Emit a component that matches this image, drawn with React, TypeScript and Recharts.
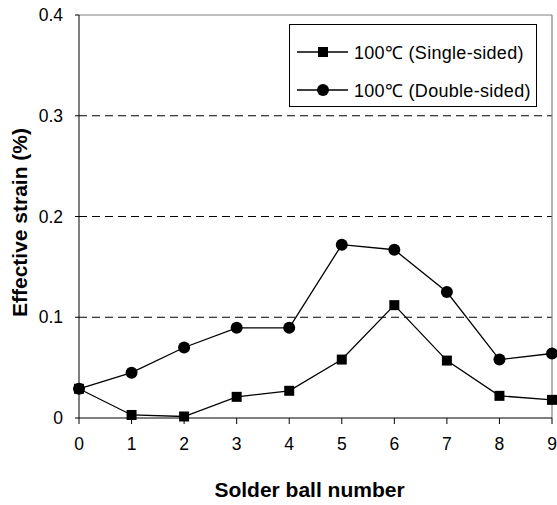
import React from 'react';
import { LineChart, Line, XAxis, YAxis, ReferenceLine, Legend } from 'recharts';

// solder ball index along the board edge
const ballNumbers = [0, 1, 2, 3, 4, 5, 6, 7, 8, 9];
const singleSided = [0.029, 0.003, 0.0015, 0.021, 0.027, 0.058, 0.112, 0.057, 0.022, 0.018];
const doubleSided = [0.029, 0.045, 0.07, 0.0895, 0.0895, 0.172, 0.167, 0.125, 0.058, 0.064];
const yTicks = [0, 0.1, 0.2, 0.3, 0.4];
const gridValues = [0.1, 0.2, 0.3];
const seriesNames = ['100\u2103 (Single-sided)', '100\u2103 (Double-sided)'];

const data = ballNumbers.map((n, i) => ({
  ball: n,
  single: singleSided[i],
  double: doubleSided[i],
}));

const FONT = '"Liberation Sans", Arial, sans-serif';

const SquareDot = (props: any) => {
  const { cx, cy, index } = props;
  if (cx == null || cy == null) return null;
  return <rect key={`sq-${index}`} x={cx - 5} y={cy - 5} width={10} height={10} fill="#000" />;
};

const CircleDot = (props: any) => {
  const { cx, cy, index } = props;
  if (cx == null || cy == null) return null;
  return <circle key={`ci-${index}`} cx={cx} cy={cy} r={6} fill="#000" />;
};

const LegendBox = () => (
  <div
    style={{
      border: '1px solid #000',
      width: 248,
      height: 83,
      background: '#fff',
      fontFamily: FONT,
      fontSize: 18,
      letterSpacing: 0.3,
      color: '#000',
      paddingTop: 8,
      boxSizing: 'border-box',
    }}
  >
    {seriesNames.map((name, i) => (
      <div key={name} style={{ display: 'flex', alignItems: 'center', height: 38 }}>
        <svg width={52} height={14} style={{ marginLeft: 7 }}>
          <line x1={0} y1={7} x2={51} y2={7} stroke="#000" strokeWidth={1.3} />
          {i === 0 ? (
            <rect x={21} y={2} width={10} height={10} fill="#000" />
          ) : (
            <circle cx={26} cy={7} r={6} fill="#000" />
          )}
        </svg>
        <span style={{ marginLeft: 5, whiteSpace: 'nowrap' }}>{name}</span>
      </div>
    ))}
  </div>
);

const YTitle = (props: any) => {
  const { viewBox } = props;
  const x = viewBox.x + 19;
  const y = viewBox.y + viewBox.height / 2 + 6;
  return (
    <text
      x={x}
      y={y}
      transform={`rotate(-90, ${x}, ${y})`}
      textAnchor="middle"
      dominantBaseline="central"
      fontFamily={FONT}
      fontSize={21}
      fontWeight="bold"
      fill="#000"
    >
      Effective strain (%)
    </text>
  );
};

const XTitle = (props: any) => {
  const { viewBox } = props;
  return (
    <text
      x={viewBox.x + viewBox.width / 2 - 6}
      y={viewBox.y + 79}
      textAnchor="middle"
      fontFamily={FONT}
      fontSize={21}
      fontWeight="bold"
      fill="#000"
    >
      Solder ball number
    </text>
  );
};

export default function App() {
  return (
    <div style={{ position: 'absolute', left: 0, top: 0, background: '#fff' }}>
      <LineChart width={557} height={505} data={data} margin={{ top: 15, right: 5, left: 0, bottom: 47 }}>
        {gridValues.map((v) => (
          <ReferenceLine key={v} y={v} stroke="#000" strokeWidth={1} strokeDasharray="8 5" />
        ))}
        <ReferenceLine y={0.4} stroke="#808080" strokeWidth={1.2} />
        <ReferenceLine x={9} stroke="#808080" strokeWidth={1.2} />
        <XAxis
          dataKey="ball"
          type="number"
          domain={[0, 9]}
          ticks={ballNumbers}
          height={40}
          tickSize={6}
          tickMargin={14}
          axisLine={{ stroke: '#000' }}
          tickLine={{ stroke: '#000' }}
          tick={{ fill: '#000', fontFamily: FONT, fontSize: 17.5 }}
          label={<XTitle />}
        />
        <YAxis
          type="number"
          domain={[0, 0.4]}
          ticks={yTicks}
          width={79}
          tickSize={4}
          tickMargin={12}
          axisLine={{ stroke: '#000' }}
          tickLine={{ stroke: '#000' }}
          tick={{ fill: '#000', fontFamily: FONT, fontSize: 17.5 }}
          tickFormatter={(v: number) => (v === 0 ? '0' : v.toFixed(1))}
          label={<YTitle />}
        />
        <Legend
          verticalAlign="middle"
          align="center"
          content={<LegendBox />}
          wrapperStyle={{ position: 'absolute', left: 289, top: 24, width: 248, height: 83 }}
        />
        <Line
          dataKey="single"
          name={seriesNames[0]}
          stroke="#000"
          strokeWidth={1.3}
          dot={SquareDot}
          activeDot={false}
          isAnimationActive={false}
        />
        <Line
          dataKey="double"
          name={seriesNames[1]}
          stroke="#000"
          strokeWidth={1.3}
          dot={CircleDot}
          activeDot={false}
          isAnimationActive={false}
        />
      </LineChart>
    </div>
  );
}
